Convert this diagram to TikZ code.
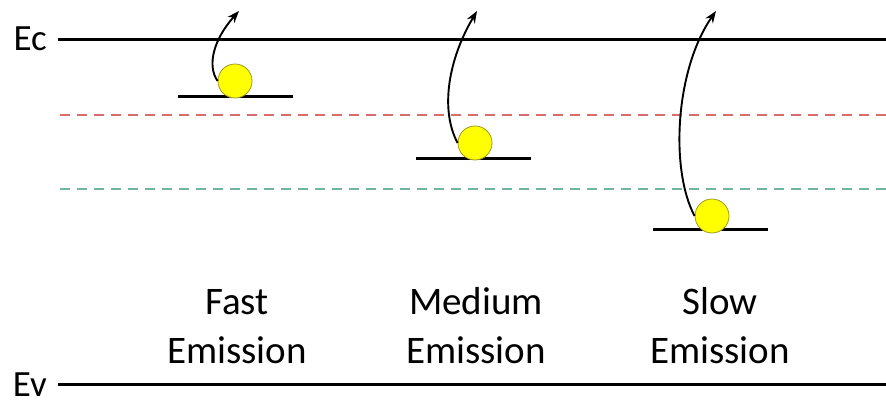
\documentclass[tikz,border=0pt]{standalone}
\usepackage{fontspec}
\setmainfont{Carlito}
\usepackage{tikz}
\usetikzlibrary{arrows.meta}
\definecolor{trapred}{HTML}{D86E6A}
\definecolor{trapteal}{HTML}{6FB5A0}
\definecolor{elyellow}{HTML}{FFFF00}
\definecolor{elrim}{HTML}{9C9A1E}

\begin{document}
\begin{tikzpicture}[x=1pt, y=-1pt,
  band/.style={line width=3pt, black},
  trapline/.style={line width=1.5pt, dash pattern=on 10pt off 7pt},
  level/.style={line width=3pt, black},
  electron/.style={circle, draw=elrim, line width=0.8pt, fill=elyellow, minimum size=34pt, inner sep=0pt},
  escape/.style={line width=1.9pt, -{Stealth[length=12pt, width=9pt]}},
  bandlabel/.style={anchor=base east, inner sep=0pt, font=\fontsize{37}{44}\selectfont},
  ratelabel/.style={anchor=base, align=center, inner sep=0pt, font=\fontsize{39}{48}\selectfont}]
  \useasboundingbox (0,0) rectangle (886,411);
  % bands and trap levels
  \node[bandlabel] (ec) at (47,51) {Ec};
  \node[bandlabel] (ev) at (47,396) {Ev};
  \draw[band] (58,40) -- (886,40);
  \draw[band] (58,385) -- (886,385);
  \draw[trapline, trapred] (60,115) -- (886,115);
  \draw[trapline, trapteal] (60,189) -- (886,189);
  \draw[level] (178,97) -- (293,97);
  \draw[level] (416,159) -- (531,159);
  \draw[level] (653,230) -- (768,230);
  % electrons
  \node[electron] (e1) at (235,81) {};
  \node[electron] (e2) at (475,143) {};
  \node[electron] (e3) at (712,216) {};
  \coordinate (t1) at (239,11);
  \coordinate (t2) at (477,11);
  \coordinate (t3) at (716,11);
  \draw[escape] (e1.west) .. controls (207,66) and (213,40) .. (t1);
  \draw[escape] (e2.west) .. controls (440,110) and (448,60) .. (t2);
  \draw[escape] (e3.west) .. controls (670,170) and (675,70) .. (t3);
  % labels
  \node[ratelabel] (fast) at (237,363) {Fast\\Emission};
  \node[ratelabel] (medium) at (476,363) {Medium\\Emission};
  \node[ratelabel] (slow) at (720,363) {Slow\\Emission};
\end{tikzpicture}
\end{document}
